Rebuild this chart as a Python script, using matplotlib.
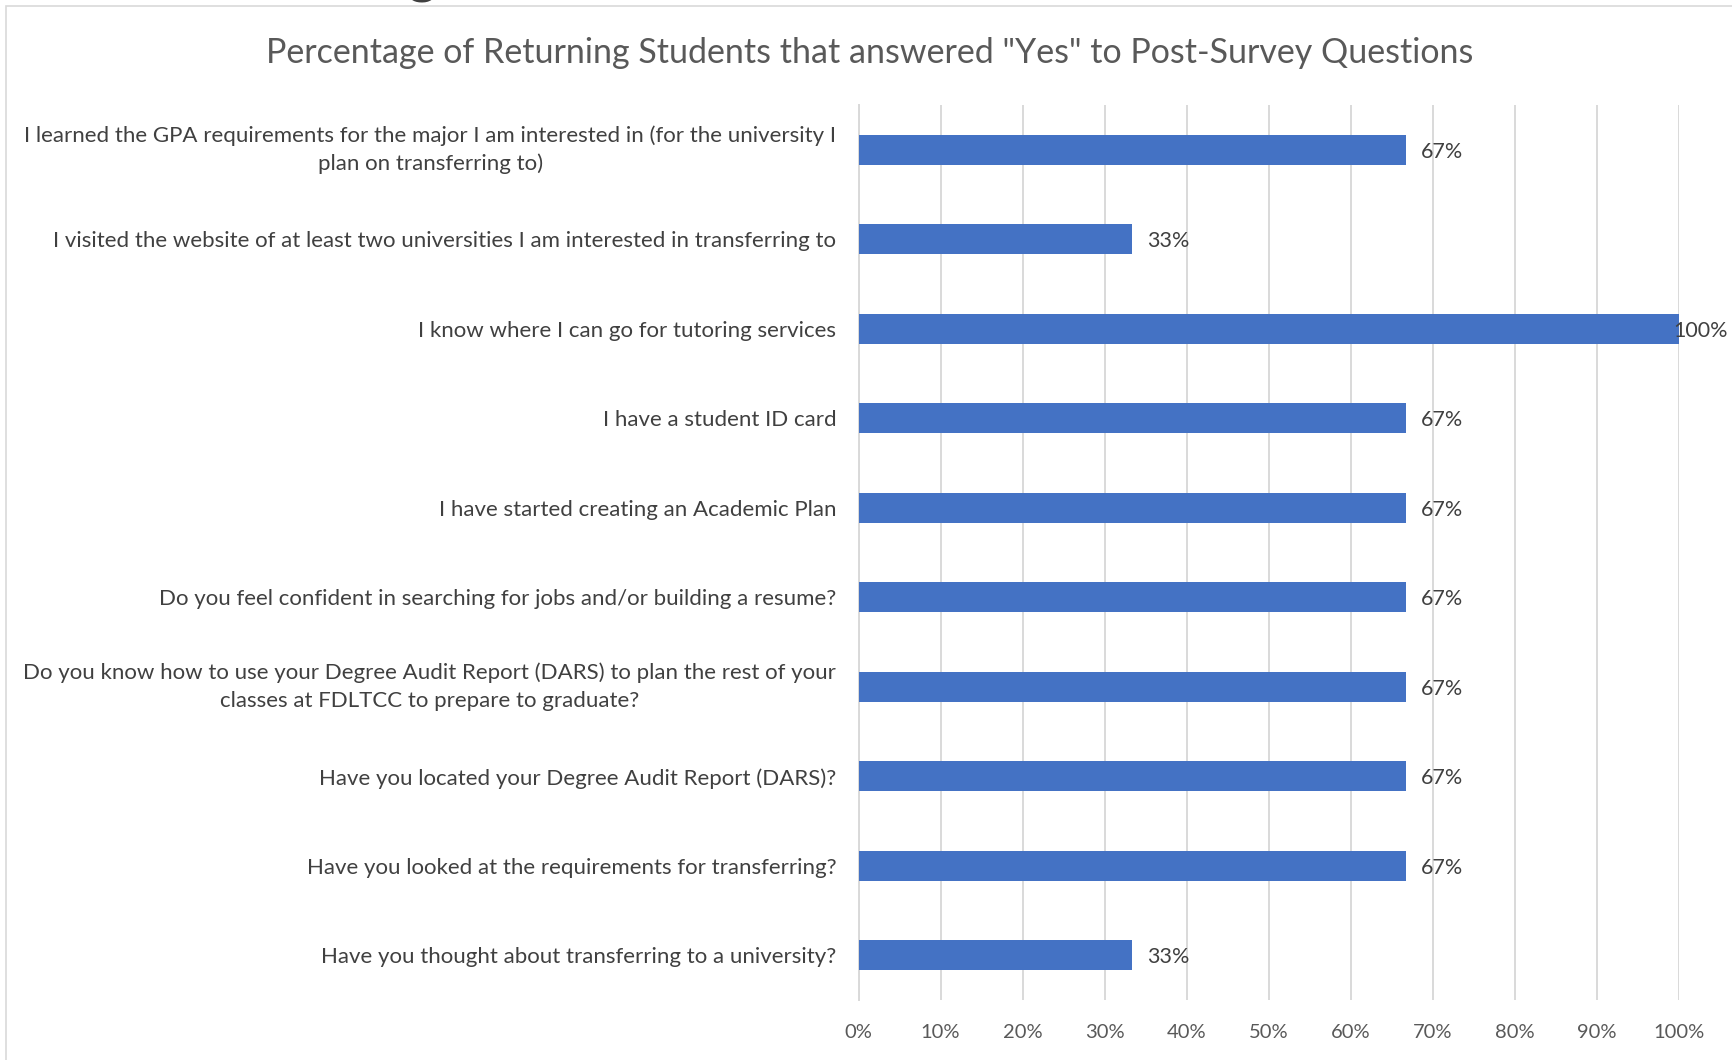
import matplotlib
matplotlib.use("Agg")
import matplotlib.pyplot as plt
from matplotlib.patches import Rectangle

# ── DATA ──────────────────────────────────────────────────────────────────────
questions = [
    "I learned the GPA requirements for the major I am interested in (for the university I\nplan on transferring to)",
    "I visited the website of at least two universities I am interested in transferring to",
    "I know where I can go for tutoring services",
    "I have a student ID card",
    "I have started creating an Academic Plan",
    "Do you feel confident in searching for jobs and/or building a resume?",
    "Do you know how to use your Degree Audit Report (DARS) to plan the rest of your\nclasses at FDLTCC to prepare to graduate?",
    "Have you located your Degree Audit Report (DARS)?",
    "Have you looked at the requirements for transferring?",
    "Have you thought about transferring to a university?",
]
pct_yes = [66.67, 33.33, 100, 66.67, 66.67, 66.67, 66.67, 66.67, 66.67, 33.33]
x_ticks = [0, 10, 20, 30, 40, 50, 60, 70, 80, 90, 100]
title = 'Percentage of Returning Students that answered "Yes" to Post-Survey Questions'

# ── STYLE ─────────────────────────────────────────────────────────────────────
BAR   = "#4472C4"
GRID  = "#D9D9D9"
TXT   = "#595959"
LBL   = "#404040"
plt.rcParams["font.family"] = ["Lato", "DejaVu Sans"]

fig = plt.figure(figsize=(17.32, 10.60), dpi=100, facecolor="white")

# chart-area frame (cut by the screenshot on right/bottom)
fig.patches.append(Rectangle((6 / 1732, -0.1), 1.2, 1.1 - 6 / 1060,
                             transform=fig.transFigure, fill=False,
                             edgecolor=GRID, linewidth=1.2))
# leftover glyph from text above the crop
fig.text(408 / 1732, 1 + 7 / 1060, "g", fontsize=40, fontweight="bold",
         color="#404040", va="baseline", ha="left")

ax = fig.add_axes([858.5 / 1732, 1 - 1000 / 1060, 820.5 / 1732, 895 / 1060])

ypos = list(range(len(questions)))
ax.barh(ypos, pct_yes, height=0.333, color=BAR, zorder=3)
ax.set_ylim(len(questions) - 0.5, -0.5)
ax.set_xlim(0, 100)

ax.set_xticks(x_ticks)
ax.set_xticklabels([f"{t}%" for t in x_ticks], fontsize=14.5, color=TXT)
ax.set_yticks(ypos)
ax.set_yticklabels(questions, fontsize=16, color=LBL, linespacing=1.5)
for t in ax.get_yticklabels():
    t.set_multialignment("center")
    if "\n" in t.get_text():
        t.set_verticalalignment("center")
ax.tick_params(axis="x", length=0, pad=17)
ax.tick_params(axis="y", length=0, pad=16)

ax.grid(axis="x", color=GRID, linewidth=1.4, zorder=0)
for s in ["top", "right", "bottom"]:
    ax.spines[s].set_visible(False)
ax.spines["left"].set_color(GRID)
ax.spines["left"].set_linewidth(1.4)

for y, v in zip(ypos, pct_yes):
    off = 11 if v < 100 else -4
    ax.annotate(f"{v:.0f}%", (v, y), xytext=(off, 0), textcoords="offset points",
                va="center_baseline", ha="left", fontsize=15.5, color=LBL, zorder=4)

fig.text(870 / 1732, 1 - 53 / 1060, title, ha="center", va="center",
         fontsize=24.5, color=TXT)

fig.savefig("out.png", dpi=100, facecolor="white")
